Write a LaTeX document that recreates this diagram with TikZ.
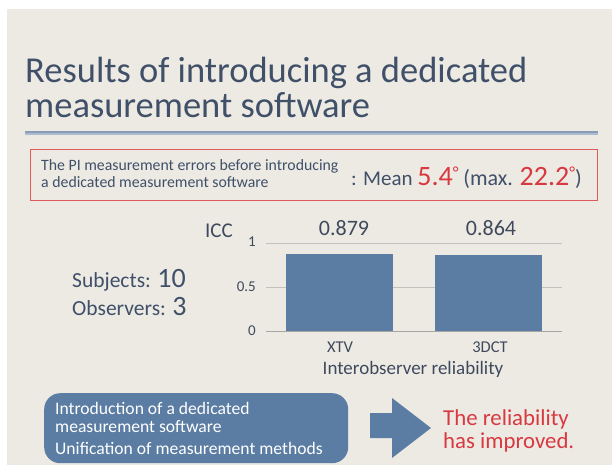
\documentclass[tikz,border=0pt]{standalone}
\usepackage{fontspec}
\setmainfont{Carlito}
\usetikzlibrary{positioning}

\definecolor{paper}{HTML}{EDEAE4}
\definecolor{titleblue}{HTML}{3F5068}
\definecolor{ruledark}{HTML}{8A9DB5}
\definecolor{rulelight}{HTML}{AABCD0}
\definecolor{boxred}{HTML}{E05A5A}
\definecolor{hired}{HTML}{D8383F}
\definecolor{barblue}{HTML}{5B7DA3}
\definecolor{gridgray}{HTML}{C4C2BE}
\definecolor{axisgray}{HTML}{A8A6A2}
\definecolor{labelgray}{HTML}{3E4A5C}

\newcommand{\fs}[1]{\fontsize{#1}{#1}\selectfont}
\newcommand{\degsign}{\raisebox{7pt}{\fs{17}°}}

\begin{document}
\begin{tikzpicture}[x=1pt, y=-1pt,
    txt/.style={inner sep=0pt, text=titleblue},
    lbl/.style={inner sep=0pt, text=labelgray}]

            \useasboundingbox (0,0) rectangle (612,466);
            \fill[paper] (7,9) rectangle (612,465);

            %title
            \node[txt, anchor=base west] (title1) at (25,82) {\fs{36.5}Results of introducing a dedicated};
            \node[txt, anchor=base west] (title2) at (25,117) {\fs{36.5}measurement software};
            \fill[ruledark] (25,131) rectangle (598,132.5);
            \fill[rulelight] (25,132.5) rectangle (598,135);

            %errors before the software
            \node[draw=boxred, line width=1.3pt, minimum width=567pt, minimum height=51pt,
                  anchor=north west, inner sep=0pt] (errbox) at (29.5,149) {};
            \node[txt, anchor=base west] (err1) at (41,170) {\fs{15.8}The PI measurement errors before introducing};
            \node[txt, anchor=base west] (err2) at (41,187) {\fs{15.8}a dedicated measurement software};
            \node[txt, anchor=base west] (mean) at (351,185)
                {\fs{21}: Mean \textcolor{hired}{\fs{28}5.4\degsign} \fs{22}(max. \textcolor{hired}{\fs{28}22.2\degsign})};

            %study size
            \node[txt, anchor=base west] (subj) at (72,287) {\fs{21.5}Subjects: \fs{28}10};
            \node[txt, anchor=base west] (obs) at (72,315) {\fs{21.5}Observers: \fs{28}3};

            %icc chart
            \foreach \v in {0.5,1}
                \draw[gridgray, line width=0.8pt] (266,331-88*\v) -- (562,331-88*\v);
            \draw[axisgray, line width=0.9pt] (266,331) -- (562,331);
            \node[lbl, anchor=east] (t0) at (256,331) {\fs{15}0};
            \node[lbl, anchor=east] (t05) at (256,287) {\fs{15}0.5};
            \node[lbl, anchor=east] (t1) at (256,242) {\fs{15}1};
            \node[lbl, anchor=base] (icc) at (219,237) {\fs{21}ICC};

            \fill[barblue] (286,331) rectangle (393,331-88*0.879);
            \fill[barblue] (435,331) rectangle (542,331-88*0.864);
            \node[lbl, anchor=base] (v1) at (344,235) {\fs{22}0.879};
            \node[lbl, anchor=base] (v2) at (491,235) {\fs{22}0.864};
            \node[lbl, anchor=base] (c1) at (340,352) {\fs{16.5}XTV};
            \node[lbl, anchor=base] (c2) at (490,352) {\fs{16.5}3DCT};
            \node[lbl, anchor=base] (axis) at (413,374) {\fs{19}Interobserver reliability};

            %what changed
            \node[fill=barblue, rounded corners=16pt, minimum width=304pt, minimum height=70pt,
                  anchor=north west, inner sep=0pt] (change) at (44,393) {};
            \node[txt, text=white, anchor=base west] (ch1) at (55,414) {\fs{17.6}Introduction of a dedicated};
            \node[txt, text=white, anchor=base west] (ch2) at (55,432) {\fs{17.6}measurement software};
            \node[txt, text=white, anchor=base west] (ch3) at (55,454) {\fs{17.6}Unification of measurement methods};

            \fill[barblue] (370,413) -- (392,413) -- (392,398) -- (431,428)
                -- (392,458) -- (392,438) -- (370,438) -- cycle;
            \node[txt, text=hired, anchor=base west] (res1) at (443,425) {\fs{22.8}The reliability};
            \node[txt, text=hired, anchor=base west] (res2) at (443,448) {\fs{22.8}has improved.};
        \end{tikzpicture}
\end{document}
